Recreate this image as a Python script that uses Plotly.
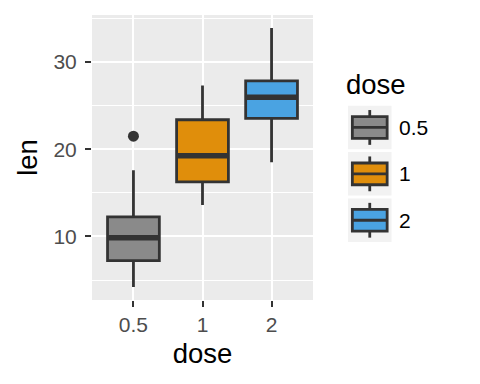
import numpy as np
import plotly.graph_objects as go

# ---- data (ToothGrowth len by dose) ----
doses = ["0.5", "1", "2"]
len_05 = [4.2, 11.5, 7.3, 5.8, 6.4, 10.0, 11.2, 11.2, 5.2, 7.0,
          15.2, 21.5, 17.6, 9.7, 14.5, 10.0, 8.2, 9.4, 16.5, 9.7]
len_1 = [16.5, 16.5, 15.2, 17.3, 22.5, 17.3, 13.6, 14.5, 18.8, 15.5,
         19.7, 23.3, 23.6, 26.4, 20.0, 25.2, 25.8, 21.2, 14.5, 27.3]
len_2 = [23.6, 18.5, 33.9, 25.5, 26.4, 32.5, 26.7, 21.5, 23.3, 29.5,
         25.5, 26.4, 22.4, 24.5, 24.8, 30.9, 26.4, 27.3, 29.4, 23.0]
series = [len_05, len_1, len_2]
fill_colors = ["#8A8A8A", "#E08E0B", "#4AA3E2"]
y_ticks = [10, 20, 30]

FONT = "Liberation Sans, Arial, sans-serif"
EDGE = "#333333"
BOX_W = 0.75


def box_stats(vals):
    v = np.asarray(vals, dtype=float)
    q1, med, q3 = np.percentile(v, [25, 50, 75])  # R type 7, as ggplot
    iqr = q3 - q1
    inside = v[(v >= q1 - 1.5 * iqr) & (v <= q3 + 1.5 * iqr)]
    out = v[(v < q1 - 1.5 * iqr) | (v > q3 + 1.5 * iqr)]
    return q1, med, q3, inside.min(), inside.max(), out


fig = go.Figure()
for i, (lab, vals, col) in enumerate(zip(doses, series, fill_colors)):
    q1, med, q3, lo, hi, out = box_stats(vals)
    fig.add_trace(go.Box(
        x=[i], q1=[q1], median=[med], q3=[q3], lowerfence=[lo], upperfence=[hi],
        name=lab, width=BOX_W, fillcolor=col, line=dict(color=EDGE, width=2.8),
        whiskerwidth=0, boxpoints=False,
        showlegend=False, hoverinfo="skip",
    ))
    fig.add_trace(go.Scatter(
        x=[i - BOX_W / 2, i + BOX_W / 2], y=[med, med], mode="lines",
        line=dict(color=EDGE, width=5.6), showlegend=False, hoverinfo="skip",
    ))
    if len(out):
        fig.add_trace(go.Scatter(
            x=[i] * len(out), y=list(out), mode="markers",
            marker=dict(color=EDGE, size=11, line=dict(width=0)),
            showlegend=False, hoverinfo="skip",
        ))

ymin = min(min(s) for s in series)
ymax = max(max(s) for s in series)
pad = 0.05 * (ymax - ymin)

W, H = 480, 384
ML, MR, MT, MB = 92, 167, 15, 84
PW, PH = W - ML - MR, H - MT - MB


def px_x(px):
    return (px - ML) / PW


def px_y(py):
    return (H - MB - py) / PH


fig.update_layout(
    width=W, height=H,
    margin=dict(l=ML, r=MR, t=MT, b=MB, pad=0, autoexpand=False),
    plot_bgcolor="#EBEBEB", paper_bgcolor="white",
    font=dict(family=FONT),
    showlegend=False,
    xaxis=dict(
        range=[-0.6, len(doses) - 0.4], tickmode="array",
        tickvals=list(range(len(doses))), ticktext=doses,
        showgrid=True, gridcolor="white", gridwidth=2.2, zeroline=False,
        ticks="outside", ticklen=6, tickwidth=2, tickcolor=EDGE,
        tickfont=dict(size=21, color="#4D4D4D", family=FONT),
        title=dict(text="dose", font=dict(size=27.5, color="black", family=FONT), standoff=8),
        automargin=False, fixedrange=True,
    ),
    yaxis=dict(
        range=[ymin - pad, ymax + pad], tickmode="array", tickvals=y_ticks,
        showgrid=True, gridcolor="white", gridwidth=2.2, zeroline=False,
        ticks="outside", ticklen=6, tickwidth=2, tickcolor=EDGE, ticklabelstandoff=4,
        tickfont=dict(size=21, color="#4D4D4D", family=FONT),
        minor=dict(dtick=5, tick0=0, showgrid=True, gridcolor="white", gridwidth=1.1, ticks=""),
        title=dict(text="len", font=dict(size=27.5, color="black", family=FONT), standoff=7),
        automargin=False, fixedrange=True,
    ),
)

# ---- legend drawn as a ggplot-style key ----
shapes = []
annotations = [dict(
    text="dose", xref="paper", yref="paper", x=px_x(344), y=px_y(84),
    xanchor="left", yanchor="middle", showarrow=False,
    font=dict(size=27.5, color="black", family=FONT),
)]
key_left, key_size, key_step, key_top0 = 348, 43.5, 46.4, 105.7
for i, (lab, col) in enumerate(zip(doses, fill_colors)):
    top = key_top0 + i * key_step
    l, r = key_left, key_left + key_size
    b = top + key_size
    shapes.append(dict(type="rect", xref="paper", yref="paper",
                       x0=px_x(l), x1=px_x(r), y0=px_y(top), y1=px_y(b),
                       fillcolor="#F2F2F2", line=dict(width=0), layer="above"))
    bl, br = l + 0.1 * key_size, r - 0.1 * key_size
    bt, bb = top + 0.25 * key_size, top + 0.75 * key_size
    cx = (l + r) / 2
    shapes.append(dict(type="line", xref="paper", yref="paper",
                       x0=px_x(cx), x1=px_x(cx), y0=px_y(top + 0.1 * key_size), y1=px_y(bt),
                       line=dict(color=EDGE, width=2.8), layer="above"))
    shapes.append(dict(type="line", xref="paper", yref="paper",
                       x0=px_x(cx), x1=px_x(cx), y0=px_y(bb), y1=px_y(top + 0.9 * key_size),
                       line=dict(color=EDGE, width=2.8), layer="above"))
    shapes.append(dict(type="rect", xref="paper", yref="paper",
                       x0=px_x(bl), x1=px_x(br), y0=px_y(bt), y1=px_y(bb),
                       fillcolor=col, line=dict(color=EDGE, width=2.8), layer="above"))
    cy = top + key_size / 2
    shapes.append(dict(type="line", xref="paper", yref="paper",
                       x0=px_x(bl), x1=px_x(br), y0=px_y(cy), y1=px_y(cy),
                       line=dict(color=EDGE, width=2.8), layer="above"))
    annotations.append(dict(
        text=lab, xref="paper", yref="paper", x=px_x(397), y=px_y(cy),
        xanchor="left", yanchor="middle", showarrow=False,
        font=dict(size=21, color="black", family=FONT),
    ))

fig.update_layout(shapes=shapes, annotations=annotations)
fig.write_html("out.html", config={"displayModeBar": False},
               post_script="document.body.style.margin='0';")
